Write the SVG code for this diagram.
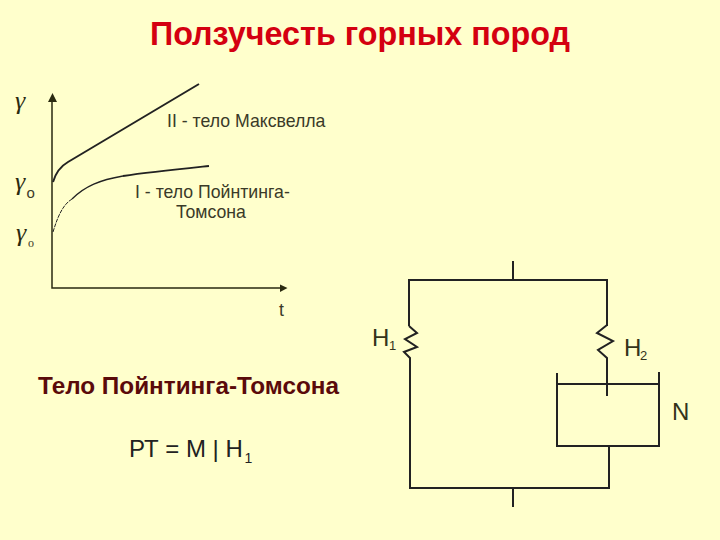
<svg xmlns="http://www.w3.org/2000/svg" width="720" height="540" viewBox="0 0 720 540">
<style>
.ln{fill:none;stroke:#222;stroke-width:2;stroke-linejoin:miter}
.ax{fill:none;stroke:#2a2a10;stroke-width:1.5}
.c{fill:none;stroke:#222}
.lab{font-family:"Liberation Sans",Arial,sans-serif;font-size:17.7px;fill:#3a3a28}
.sym{font-family:"Liberation Serif","DejaVu Serif",serif;fill:#2a2a10;font-size:26px;font-style:italic}
.h{font-family:"Liberation Sans",Arial,sans-serif;font-size:24px;fill:#33331a}
.sub{font-family:"Liberation Sans",Arial,sans-serif;font-size:13px;fill:#33331a}
.t{font-family:"Liberation Sans",Arial,sans-serif}
</style>
<rect width="720" height="540" fill="#ffffcc"/>
<text x="360" y="45" text-anchor="middle" class="t" font-size="32.3" font-weight="700" fill="#d40010">Ползучесть горных пород</text>
<g id="chart">
<path class="ax" d="M52 100V288H281"/>
<path d="M52.500 93L48 102H57Z M287.500 288L280 284.500V292Z" fill="#2a2a10"/>
<path class="c" style="stroke-width:2" d="M53 182C56 172 61 166 68 162L199 84"/>
<path class="c" style="stroke-width:1;stroke-dasharray:4 1" d="M53 232C57 219 62 205 72 199"/>
<path class="c" style="stroke-width:1.300" d="M72 199C85 186 100 180 123 176"/>
<path class="c" style="stroke-width:1.800" d="M123 176C150 172 180 169 209 166"/>
<text class="sym" x="15" y="109">γ</text>
<text class="sym" x="15" y="190">γ</text>
<text class="lab" x="26.500" y="198" style="font-size:15px">o</text>
<text class="sym" x="16" y="241">γ</text>
<text class="lab" x="28" y="247" style="font-size:12px;font-family:'Liberation Serif',serif">o</text>
<text class="lab" x="167" y="127">II - тело Максвелла</text>
<text class="lab" x="135" y="198">I - тело Пойнтинга-</text>
<text class="lab" x="176" y="218">Томсона</text>
<text class="lab" x="279" y="316">t</text>
</g>
<g id="connectors">
<path class="ln" d="M513 261V280M409 326V280H607V326"/>
<path class="ln" d="M409 326L417 333L405 339L417 347L404 352L410 358V488H609V446"/>
<path class="ln" d="M607 325L597 333L613 341L598 350L607 358V396"/>
<path class="ln" d="M513 488V507"/>
</g>
<g id="dashpot">
<path class="ln" d="M557 373V446H659V372M557 384H659"/>
</g>
<g id="labels">
<text class="h" x="372" y="346">H</text><text class="sub" x="389" y="350">1</text>
<text class="h" x="624" y="356">H</text><text class="sub" x="640" y="360">2</text>
<text class="h" x="672" y="420">N</text>
</g>
<g id="captions">
<text class="t" x="38" y="394" font-size="24.300" font-weight="700" fill="#5a0a0a">Тело Пойнтинга-Томсона</text>
<text class="t" x="129" y="457" font-size="24" fill="#222">РТ = М | Н</text>
<text class="t" x="244.500" y="463" font-size="14" fill="#222">1</text>
</g>
</svg>
